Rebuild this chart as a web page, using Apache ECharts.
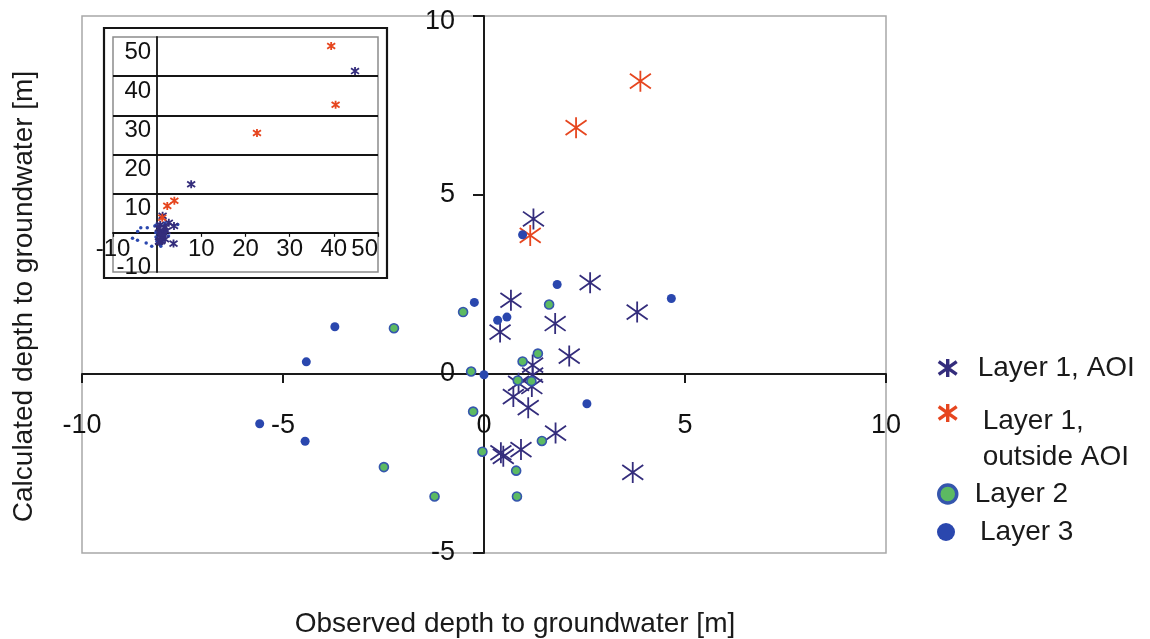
<!DOCTYPE html>
<html>
<head>
<meta charset="utf-8">
<title>Observed vs calculated depth to groundwater</title>
<script src="https://cdn.jsdelivr.net/npm/echarts@6/dist/echarts.min.js"></script>
<style>
  html, body { margin: 0; padding: 0; background: #ffffff; }
  #chart { width: 1150px; height: 639px; }
</style>
</head>
<body>
<div id="chart"></div>
<script>
// ---- data: [observed, calculated] depth to groundwater in metres ----
const layer1AOI = [
  [1.23, 4.33], [2.64, 2.55], [0.67, 2.06], [3.81, 1.73], [1.77, 1.41],
  [0.40, 1.17], [2.12, 0.50], [1.21, 0.25], [1.21, -0.03], [0.86, -0.26],
  [1.19, -0.35], [0.73, -0.63], [1.10, -0.94], [1.78, -1.65], [0.92, -2.11],
  [0.48, -2.30], [0.42, -2.20], [3.70, -2.75]
];
const layer1Outside = [[3.89, 8.18], [2.29, 6.88], [1.15, 3.87]];
const layer2 = [
  [-2.24, 1.28], [-2.49, -2.60], [-1.23, -3.42], [-0.52, 1.73], [1.62, 1.94],
  [-0.32, 0.07], [0.96, 0.35], [1.34, 0.57], [0.84, -0.18], [1.18, -0.20],
  [-0.27, -1.05], [1.44, -1.87], [-0.04, -2.17], [0.80, -2.70], [0.82, -3.42]
];
const layer3 = [
  [-3.71, 1.32], [-4.42, 0.34], [-5.58, -1.39], [-4.45, -1.88], [-0.24, 2.00],
  [0.34, 1.50], [0.57, 1.59], [1.82, 2.50], [0.00, -0.02], [0.96, 3.89],
  [4.66, 2.11], [2.56, -0.83]
];
// wells beyond the main window, only visible in the overview inset
const layer1AOIFar = [[44.8, 41.3], [7.7, 12.4]];
const layer1OutsideFar = [[39.4, 47.7], [40.4, 32.7], [22.6, 25.5]];

// ---- tick values ----
const mainXTicks = [-10, -5, 0, 5, 10];
const mainYTicks = [-5, 0, 5, 10];
const insetTicks = [-10, 0, 10, 20, 30, 40, 50];

const names = ['Layer 1, AOI', 'Layer 1, outside AOI', 'Layer 2', 'Layer 3'];

// ---- layout ----
const MAIN = { left: 82, top: 16, width: 804, height: 537 };
const INSET = { left: 113, top: 37, width: 265, height: 235 };

// ---- styles ----
const FONT = '"Liberation Sans", Arial, Helvetica, sans-serif';
const TXT = '#1a1a1a';
const C_AOI = '#342d7c';
const C_OUT = '#e6461f';
const C_L2 = '#5cba62';
const C_L2_RING = '#3556ad';
const C_L3 = '#2a47ae';
const STAR = 'path://M10,0L10,20M0,3L20,17M0,17L20,3';

const first = t => t[0];
const last = t => t[t.length - 1];
const step = t => t[1] - t[0];
// pixel shift that puts an axis on the zero line of the crossing axis
const zeroShift = (ticks, span) => -span * (0 - first(ticks)) / (last(ticks) - first(ticks));

function starStyle(color, w) {
  return { color: 'rgba(0,0,0,0)', borderColor: color, borderWidth: w, opacity: 1 };
}
function dotStyle(fill, ring, w) {
  return { color: fill, borderColor: ring, borderWidth: w, opacity: 1 };
}

function legendFor(name, top, pad, icon, itemStyle, formatter, rich) {
  return {
    orient: 'vertical', left: 937, top: top, padding: 0, itemGap: 0,
    itemWidth: 18, itemHeight: 18,
    data: [{ name: name, icon: icon, itemStyle: itemStyle }],
    formatter: formatter || (n => n),
    textStyle: { fontSize: 28, color: TXT, fontFamily: FONT, lineHeight: 30, padding: pad, rich: rich }
  };
}

const chart = echarts.init(document.getElementById('chart'), null, { renderer: 'canvas' });

const option = {
  animation: false,
  backgroundColor: '#ffffff',
  textStyle: { fontFamily: FONT },
  grid: [
    Object.assign({ show: true, borderColor: '#a8a8a8', borderWidth: 1.5,
      backgroundColor: 'rgba(0,0,0,0)', outerBoundsMode: 'none', containLabel: false }, MAIN),
    Object.assign({ show: true, borderColor: '#8c8c8c', borderWidth: 1.5,
      backgroundColor: 'rgba(0,0,0,0)', outerBoundsMode: 'none', containLabel: false }, INSET)
  ],
  graphic: [{
    type: 'rect', z: 0, silent: true,
    shape: { x: 104, y: 28, width: 283, height: 250 },
    style: { fill: 'none', stroke: '#151515', lineWidth: 2.2 }
  }],
  xAxis: [
    {
      type: 'value', gridIndex: 0, position: 'bottom',
      offset: zeroShift(mainYTicks, MAIN.height),
      min: first(mainXTicks), max: last(mainXTicks), interval: step(mainXTicks),
      axisLine: { onZero: false, lineStyle: { color: TXT, width: 2 } },
      axisTick: { show: true, length: 9, lineStyle: { color: TXT, width: 2 } },
      axisLabel: { margin: 38, fontSize: 27, color: '#111', fontFamily: FONT },
      splitLine: { show: false },
      name: 'Observed depth to groundwater [m]', nameLocation: 'middle', nameGap: 236,
      nameTextStyle: { fontSize: 28, color: TXT, fontFamily: FONT, padding: [0, 0, 0, 62] }
    },
    {
      type: 'value', gridIndex: 1, position: 'bottom',
      offset: zeroShift(insetTicks, INSET.height),
      min: first(insetTicks), max: last(insetTicks), interval: step(insetTicks),
      axisLine: { onZero: false, lineStyle: { color: '#111', width: 1.8 } },
      axisTick: { show: true, length: 4, lineStyle: { color: '#111', width: 1.2 } },
      axisLabel: { margin: 5, fontSize: 24, color: '#111', fontFamily: FONT, alignMaxLabel: 'right',
        formatter: v => (v === 0 ? '' : String(v)) },
      splitLine: { show: false }
    }
  ],
  yAxis: [
    {
      type: 'value', gridIndex: 0, position: 'left',
      offset: zeroShift(mainXTicks, MAIN.width),
      min: first(mainYTicks), max: last(mainYTicks), interval: step(mainYTicks),
      axisLine: { onZero: false, lineStyle: { color: TXT, width: 2 } },
      axisTick: { show: true, length: 11, lineStyle: { color: TXT, width: 2 } },
      axisLabel: { margin: 29, fontSize: 27, color: '#111', fontFamily: FONT,
        formatter: v => (v === last(mainYTicks) ? '{top|' + v + '}' : String(v)),
        rich: { top: { fontSize: 27, color: '#111', fontFamily: FONT, padding: [12, 0, 0, 0] } } },
      splitLine: { show: false },
      name: 'Calculated depth to groundwater [m]', nameLocation: 'middle', nameGap: 446,
      nameTextStyle: { fontSize: 28, color: TXT, fontFamily: FONT, padding: [0, 24, 0, 0] }
    },
    {
      type: 'value', gridIndex: 1, position: 'left',
      offset: zeroShift(insetTicks, INSET.width),
      min: first(insetTicks), max: last(insetTicks), interval: step(insetTicks),
      axisLine: { onZero: false, lineStyle: { color: '#111', width: 1.8 } },
      axisTick: { show: false },
      axisLabel: {
        margin: 6, color: '#111', fontFamily: FONT, fontSize: 24,
        formatter: v => (v === 0 ? '' : v === first(insetTicks) ? '{n|' + v + '}' : '{p|' + v + '}'),
        rich: {
          p: { fontSize: 24, color: '#111', fontFamily: FONT, padding: [30, 0, 0, 0] },
          n: { fontSize: 24, color: '#111', fontFamily: FONT, padding: [0, 0, 10, 0] }
        }
      },
      splitLine: { show: true, showMinLine: false, showMaxLine: false, lineStyle: { color: '#151515', width: 1.8 } }
    }
  ],
  legend: [
    legendFor(names[0], 353, [0, 0, 0, 16], STAR, starStyle(C_AOI, 3.4)),
    legendFor(names[1], 351, [0, 0, 0, 21], STAR, starStyle(C_OUT, 3.4),
      () => '{s| }\n{t|Layer 1,}\n{t|outside AOI}',
      {
        s: { fontSize: 10, lineHeight: 52 },
        t: { fontSize: 28, lineHeight: 36, color: TXT, fontFamily: FONT }
      }),
    legendFor(names[2], 479, [0, 0, 0, 13], 'circle', dotStyle(C_L2, C_L2_RING, 3.5)),
    legendFor(names[3], 517, [0, 0, 0, 20], 'circle', dotStyle(C_L3, C_L3, 0))
  ],
  series: [
    // main window
    { name: names[0], type: 'scatter', xAxisIndex: 0, yAxisIndex: 0, symbol: STAR, symbolSize: 21,
      itemStyle: starStyle(C_AOI, 1.8), data: layer1AOI, z: 3 },
    { name: names[1], type: 'scatter', xAxisIndex: 0, yAxisIndex: 0, symbol: STAR, symbolSize: 21,
      itemStyle: starStyle(C_OUT, 1.8), data: layer1Outside, z: 3 },
    { name: names[2], type: 'scatter', xAxisIndex: 0, yAxisIndex: 0, symbol: 'circle', symbolSize: 9,
      itemStyle: dotStyle(C_L2, C_L2_RING, 1.6), data: layer2, z: 4 },
    { name: names[3], type: 'scatter', xAxisIndex: 0, yAxisIndex: 0, symbol: 'circle', symbolSize: 9,
      itemStyle: dotStyle(C_L3, C_L3, 0), data: layer3, z: 4 },
    // overview inset
    { name: names[2], type: 'scatter', xAxisIndex: 1, yAxisIndex: 1, symbol: 'circle', symbolSize: 3.5,
      itemStyle: dotStyle(C_L3, C_L3, 0), data: layer2, z: 3 },
    { name: names[3], type: 'scatter', xAxisIndex: 1, yAxisIndex: 1, symbol: 'circle', symbolSize: 3.5,
      itemStyle: dotStyle(C_L3, C_L3, 0), data: layer3, z: 3 },
    { name: names[0], type: 'scatter', xAxisIndex: 1, yAxisIndex: 1, symbol: STAR, symbolSize: 8,
      itemStyle: starStyle(C_AOI, 1.8), data: layer1AOI.concat(layer1AOIFar), z: 4 },
    { name: names[1], type: 'scatter', xAxisIndex: 1, yAxisIndex: 1, symbol: STAR, symbolSize: 8,
      itemStyle: starStyle(C_OUT, 1.8), data: layer1Outside.concat(layer1OutsideFar), z: 5 }
  ]
};

chart.setOption(option);
</script>
</body>
</html>
